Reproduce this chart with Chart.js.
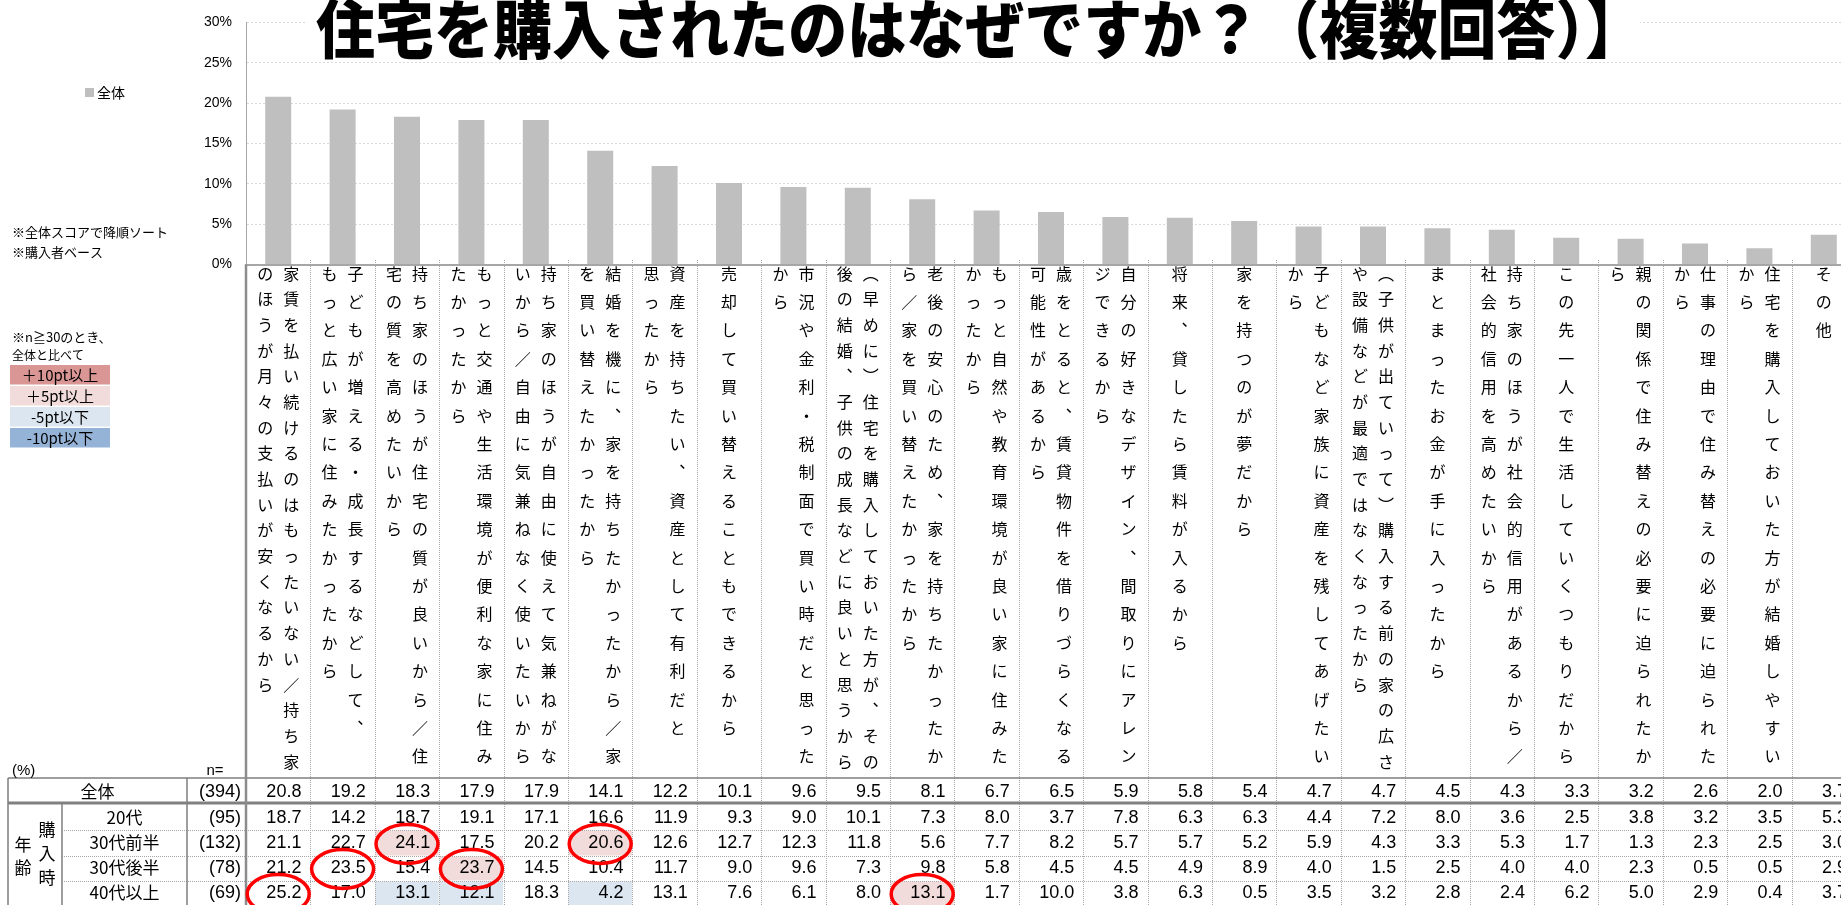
<!DOCTYPE html>
<html lang="ja">
<head>
<meta charset="utf-8">
<script src="https://cdn.jsdelivr.net/npm/chart.js@4.4.1/dist/chart.umd.min.js"></script>
<style>
html,body{margin:0;padding:0;background:#fff;overflow:hidden;}
#wrap{position:relative;width:1900px;height:905px;}
canvas{display:block;}
</style>
</head>
<body>
<div id="wrap"><canvas id="c" width="1900" height="905"></canvas></div>
<script>
// ---- data ----
const titleText = '住宅を購入されたのはなぜですか？（複数回答）】';
const seriesName = '全体';
const yTickLabels = ['0%', '5%', '10%', '15%', '20%', '25%', '30%'];

// reasons: [first (right) column, second (left) column] of vertical text
const reasons = [
  ['家賃を払い続けるのはもったいない／持ち家', 'のほうが月々の支払いが安くなるから'],
  ['子どもが増える・成長するなどして、', 'もっと広い家に住みたかったから'],
  ['持ち家のほうが住宅の質が良いから／住', '宅の質を高めたいから'],
  ['もっと交通や生活環境が便利な家に住み', 'たかったから'],
  ['持ち家のほうが自由に使えて気兼ねがな', 'いから／自由に気兼ねなく使いたいから'],
  ['結婚を機に、家を持ちたかったから／家', 'を買い替えたかったから'],
  ['資産を持ちたい、資産として有利だと', '思ったから'],
  ['売却して買い替えることもできるから', ''],
  ['市況や金利・税制面で買い時だと思った', 'から'],
  ['（早めに）住宅を購入しておいた方が、その', '後の結婚、子供の成長などに良いと思うから'],
  ['老後の安心のため、家を持ちたかったか', 'ら／家を買い替えたかったから'],
  ['もっと自然や教育環境が良い家に住みた', 'かったから'],
  ['歳をとると、賃貸物件を借りづらくなる', '可能性があるから'],
  ['自分の好きなデザイン、間取りにアレン', 'ジできるから'],
  ['将来、貸したら賃料が入るから', ''],
  ['家を持つのが夢だから', ''],
  ['子どもなど家族に資産を残してあげたい', 'から'],
  ['（子供が出ていって）購入する前の家の広さ', 'や設備などが最適ではなくなったから'],
  ['まとまったお金が手に入ったから', ''],
  ['持ち家のほうが社会的信用があるから／', '社会的信用を高めたいから'],
  ['この先一人で生活していくつもりだから', ''],
  ['親の関係で住み替えの必要に迫られたか', 'ら'],
  ['仕事の理由で住み替えの必要に迫られた', 'から'],
  ['住宅を購入しておいた方が結婚しやすい', 'から'],
  ['その他', '']
];

const overallLabel = '全体';
const overallN = 394;
const overall = [20.8, 19.2, 18.3, 17.9, 17.9, 14.1, 12.2, 10.1, 9.6, 9.5, 8.1, 6.7, 6.5, 5.9, 5.8, 5.4, 4.7, 4.7, 4.5, 4.3, 3.3, 3.2, 2.6, 2.0, 3.7];

const groupHeader = ['年', '齢'];
const groupSubHeader = ['購', '入', '時'];
const ageGroups = ['20代', '30代前半', '30代後半', '40代以上'];
const ageN = [95, 132, 78, 69];
const age20s = [18.7, 14.2, 18.7, 19.1, 17.1, 16.6, 11.9, 9.3, 9.0, 10.1, 7.3, 8.0, 3.7, 7.8, 6.3, 6.3, 4.4, 7.2, 8.0, 3.6, 2.5, 3.8, 3.2, 3.5, 5.3];
const age30early = [21.1, 22.7, 24.1, 17.5, 20.2, 20.6, 12.6, 12.7, 12.3, 11.8, 5.6, 7.7, 8.2, 5.7, 5.7, 5.2, 5.9, 4.3, 3.3, 5.3, 1.7, 1.3, 2.3, 2.5, 3.0];
const age30late = [21.2, 23.5, 15.4, 23.7, 14.5, 10.4, 11.7, 9.0, 9.6, 7.3, 9.8, 5.8, 4.5, 4.5, 4.9, 8.9, 4.0, 1.5, 2.5, 4.0, 4.0, 2.3, 0.5, 0.5, 2.9];
const age40plus = [25.2, 17.0, 13.1, 12.1, 18.3, 4.2, 13.1, 7.6, 6.1, 8.0, 13.1, 1.7, 10.0, 3.8, 6.3, 0.5, 3.5, 3.2, 2.8, 2.4, 6.2, 5.0, 2.9, 0.4, 3.7];
const ageRows = [age20s, age30early, age30late, age40plus];

// highlighted cells [age row, column]
const plus5Cells = [[1, 2], [1, 5], [2, 3], [3, 10]];
const minus5Cells = [[3, 2], [3, 3], [3, 5]];
const circledCells = [[1, 2], [1, 5], [2, 1], [2, 3], [3, 0], [3, 10]];

// notes and colour key
const notes = ['※全体スコアで降順ソート', '※購入者ベース'];
const keyNotes = ['※n≧30のとき、', '全体と比べて'];
const keyLabels = ['＋10pt以上', '＋5pt以上', '-5pt以下', '-10pt以下'];

// ---- styles ----
const BAR = '#BFBFBF';
const KEY_COLORS = ['#D99694', '#F2DCDB', '#DCE6F1', '#95B3D7'];
const PLUS5 = '#F2DCDB';
const MINUS5 = '#DCE6F1';
const JP = '"Noto Sans CJK JP", "Noto Sans", sans-serif';
const NUM = '"Liberation Sans", Arial, sans-serif';

// vertical presentation forms for vertical writing
const VERT = { '（': '︵', '）': '︶', '、': '︑', 'ー': '丨' };

const sheet = {
  id: 'sheet',
  beforeDraw(chart) {
    const ctx = chart.ctx;
    ctx.save();
    ctx.fillStyle = '#fff';
    ctx.fillRect(0, 0, chart.width, chart.height);
    ctx.restore();
  },
  afterDraw(chart) {
    const ctx = chart.ctx;
    const x = chart.scales.x;
    const area = chart.chartArea;
    const W = chart.width;
    const colW = x.getPixelForValue(1) - x.getPixelForValue(0);
    const colLeft = c => x.getPixelForValue(c) - colW / 2;
    const n = overall.length;

    ctx.save();

    // title: heavy, slightly condensed
    ctx.fillStyle = '#fff';
    ctx.fillRect(305, 0, 1335, 54);
    ctx.fillStyle = '#000';
    ctx.font = '900 64px ' + JP;
    ctx.textAlign = 'left';
    ctx.textBaseline = 'middle';
    const tw = ctx.measureText(titleText).width;
    ctx.save();
    ctx.translate(316, 29);
    ctx.scale(1328 / tw, 1);
    ctx.fillText(titleText, 0, 0);
    ctx.restore();

    // legend
    const ds = chart.data.datasets[0];
    ctx.fillStyle = ds.backgroundColor;
    ctx.fillRect(85, 88, 9, 9);
    ctx.fillStyle = '#000';
    ctx.font = '14px ' + JP;
    ctx.fillText(ds.label, 97, 93);

    // notes
    ctx.font = '13px ' + JP;
    ctx.fillText(notes[0], 12, 232);
    ctx.fillText(notes[1], 12, 252);
    ctx.fillText(keyNotes[0], 12, 337);
    ctx.font = '12px ' + JP;
    ctx.fillText(keyNotes[1], 12, 355);

    // colour key
    const keyY = [365, 386, 407, 428];
    ctx.textAlign = 'center';
    ctx.font = '15px ' + JP;
    keyLabels.forEach((t, i) => {
      ctx.fillStyle = KEY_COLORS[i];
      ctx.fillRect(10, keyY[i], 100, 19.5);
      ctx.fillStyle = '#000';
      ctx.fillText(t, 60, keyY[i] + 10);
    });

    // vertical category labels
    ctx.font = '16px ' + JP;
    ctx.fillStyle = '#000';
    ctx.textAlign = 'center';
    ctx.textBaseline = 'middle';
    reasons.forEach((pair, i) => {
      const cx = x.getPixelForValue(i);
      const cols = pair.filter(s => s.length);
      const maxN = Math.max(...cols.map(s => [...s].length));
      const pitch = Math.min(28.4, 488 / Math.max(1, maxN - 1));
      cols.forEach((s, k) => {
        const colX = cols.length === 1 ? cx : cx + (k === 0 ? 13 : -13);
        [...s].forEach((ch, j) => {
          ctx.fillText(VERT[ch] || ch, colX, 273.5 + j * pitch);
        });
      });
    });

    // table geometry
    const topY = 778, thickY = 803, bottomY = 905;
    const rowSeps = [830, 856, 881];
    const rowTop = [804.5, 830.5, 856.5, 881.5];
    const rowBot = [829.5, 855.5, 880.5, 905];
    const overallY = 792;
    const rowY = [818, 843, 868, 893];

    // cell shading
    plus5Cells.forEach(([r, c]) => {
      ctx.fillStyle = PLUS5;
      ctx.fillRect(colLeft(c) + 0.5, rowTop[r], colW - 1, rowBot[r] - rowTop[r]);
    });
    minus5Cells.forEach(([r, c]) => {
      ctx.fillStyle = MINUS5;
      ctx.fillRect(colLeft(c) + 0.5, rowTop[r], colW - 1, rowBot[r] - rowTop[r]);
    });

    // dotted column separators
    ctx.strokeStyle = '#A6A6A6';
    ctx.lineWidth = 1;
    ctx.setLineDash([1, 1]);
    for (let c = 1; c <= n; c++) {
      const px = Math.round(colLeft(c)) + 0.5;
      ctx.beginPath();
      ctx.moveTo(px, 260);
      ctx.lineTo(px, bottomY);
      ctx.stroke();
    }
    // dotted row separators
    rowSeps.forEach(y => {
      ctx.beginPath();
      ctx.moveTo(62, y + 0.5);
      ctx.lineTo(W, y + 0.5);
      ctx.stroke();
    });
    ctx.setLineDash([]);

    // solid rules
    ctx.strokeStyle = '#7F7F7F';
    ctx.lineWidth = 1.5;
    ctx.beginPath();
    ctx.moveTo(8, topY); ctx.lineTo(W, topY);
    ctx.moveTo(8, topY); ctx.lineTo(8, bottomY);
    ctx.moveTo(62, thickY); ctx.lineTo(62, bottomY);
    ctx.moveTo(187, topY); ctx.lineTo(187, bottomY);
    ctx.stroke();
    ctx.lineWidth = 3;
    ctx.strokeStyle = '#808080';
    ctx.beginPath();
    ctx.moveTo(8, thickY); ctx.lineTo(W, thickY);
    ctx.stroke();
    ctx.lineWidth = 2.5;
    ctx.strokeStyle = '#8C8C8C';
    ctx.beginPath();
    ctx.moveTo(area.left, area.bottom); ctx.lineTo(area.left, bottomY);
    ctx.stroke();

    // table header
    ctx.fillStyle = '#000';
    ctx.font = '15px ' + NUM;
    ctx.textAlign = 'left';
    ctx.fillText('(%)', 12, 771);
    ctx.textAlign = 'center';
    ctx.fillText('n=', 215, 771);

    // row labels
    ctx.font = '17px ' + JP;
    ctx.fillText(overallLabel, 97.5, overallY);
    ageGroups.forEach((g, r) => ctx.fillText(g, 124.5, rowY[r]));
    groupHeader.forEach((ch, i) => ctx.fillText(ch, 23, 845 + i * 23));
    groupSubHeader.forEach((ch, i) => ctx.fillText(ch, 47, 830 + i * 24));

    // n column
    ctx.font = '18px ' + NUM;
    ctx.textAlign = 'right';
    ctx.fillText('(' + overallN + ')', 241, overallY);
    ageN.forEach((v, r) => ctx.fillText('(' + v + ')', 241, rowY[r]));

    // values
    overall.forEach((v, c) => ctx.fillText(v.toFixed(1), colLeft(c) + colW - 9, overallY));
    ageRows.forEach((row, r) => {
      row.forEach((v, c) => ctx.fillText(v.toFixed(1), colLeft(c) + colW - 9, rowY[r]));
    });

    // circled cells
    ctx.strokeStyle = '#FF0000';
    ctx.lineWidth = 3.5;
    circledCells.forEach(([r, c]) => {
      ctx.beginPath();
      ctx.ellipse(x.getPixelForValue(c), rowY[r] + 1, 31, 19.5, 0, 0, Math.PI * 2);
      ctx.stroke();
    });

    ctx.restore();
  }
};

new Chart(document.getElementById('c'), {
  type: 'bar',
  data: {
    labels: reasons.map(r => r.join('')),
    datasets: [{
      label: seriesName,
      data: overall,
      backgroundColor: BAR,
      barPercentage: 0.404,
      categoryPercentage: 1
    }]
  },
  options: {
    responsive: false,
    animation: false,
    devicePixelRatio: 1,
    layout: { padding: { top: 15, right: 44, left: 0, bottom: 0 } },
    plugins: { legend: { display: false }, tooltip: { enabled: false }, title: { display: false } },
    scales: {
      x: {
        grid: { display: false, drawTicks: false },
        ticks: { display: false },
        border: { color: '#A6A6A6', width: 2 },
        afterFit: s => { s.height = 640.5; }
      },
      y: {
        min: 0,
        max: 30,
        ticks: {
          stepSize: 5,
          padding: 14,
          color: '#000',
          font: { family: 'Liberation Sans', size: 14 },
          callback: (v, i) => yTickLabels[i]
        },
        grid: {
          drawTicks: false,
          lineWidth: 1,
          color: c => (c.tick && c.tick.value === 0) ? 'rgba(0,0,0,0)' : '#D9D9D9'
        },
        border: { color: '#A6A6A6', width: 1, dash: [2, 2] },
        afterFit: s => { s.width = 246; }
      }
    }
  },
  plugins: [sheet]
});
</script>
</body>
</html>
